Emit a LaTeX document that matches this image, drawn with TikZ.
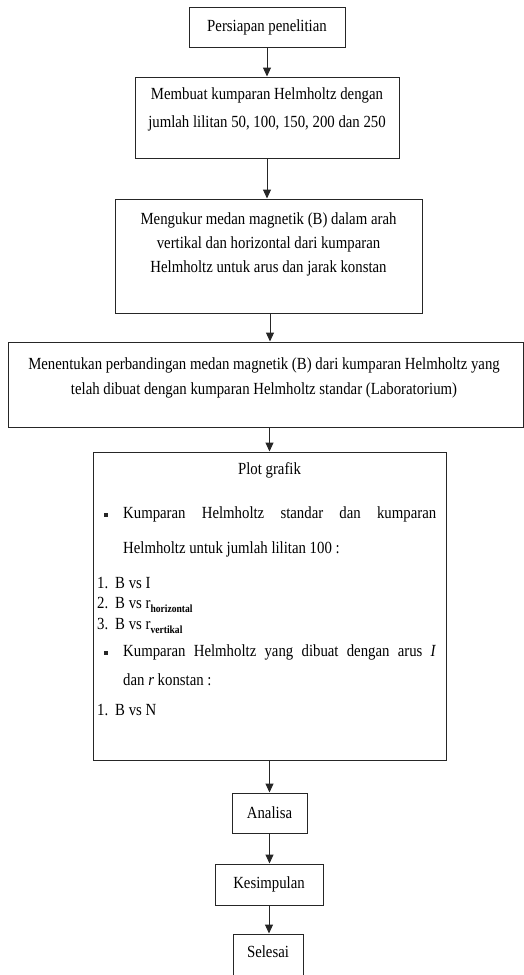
\documentclass[tikz,border=0pt]{standalone}
\usepackage{fontspec}
\setmainfont[FakeStretch=0.87]{Liberation Serif}
\usetikzlibrary{arrows.meta}
\begin{document}
\begin{tikzpicture}[x=1pt,y=-1pt,
  box/.style={draw=black!85, line width=1pt, inner sep=0pt},
  txt/.style={font=\fontsize{17}{24}\selectfont, inner sep=0pt, align=center},
  ln/.style={font=\fontsize{17}{18}\selectfont, inner sep=0pt, anchor=west, text height=11pt, text depth=3.5pt},
  bul/.style={fill=black!85, minimum size=4.5pt, inner sep=0pt},
  arr/.style={draw=black!85, line width=1pt, -{Triangle[length=9pt,width=8pt]}}]
\useasboundingbox (0,0) rectangle (524,975);
% boxes
\node[box, minimum width=156, minimum height=40] (b1) at (267,27) {};
\node[txt] (t1) at (b1.center) {Persiapan penelitian};

\node[box, minimum width=264, minimum height=81] (b2) at (267,117.5) {};
\node[txt, font=\fontsize{17}{28}\selectfont] (t2) at (267,109) {Membuat kumparan Helmholtz dengan\\jumlah lilitan 50, 100, 150, 200 dan 250};

\node[box, minimum width=307, minimum height=114] (b3) at (268.5,256) {};
\node[txt, font=\fontsize{17}{24}\selectfont] (t3) at (268.5,244) {Mengukur medan magnetik (B) dalam arah\\vertikal dan horizontal dari kumparan\\Helmholtz untuk arus dan jarak konstan};

\node[box, minimum width=515, minimum height=85] (b4) at (265.5,384.5) {};
\node[txt, font=\fontsize{17}{25}\selectfont] (t4) at (264,377.5) {Menentukan perbandingan medan magnetik (B) dari kumparan Helmholtz yang\\telah dibuat dengan kumparan Helmholtz standar (Laboratorium)};

\node[box, minimum width=353, minimum height=308] (b5) at (269.5,606) {};
\node[txt] (t5) at (269.5,470) {Plot grafik};
\node[bul] (s1) at (106,515) {};
\node[ln] (p1) at (123,515) {\hbox to 313pt{Kumparan\hfill Helmholtz\hfill standar\hfill dan\hfill kumparan}};
\node[ln] (p2) at (123,550) {Helmholtz untuk jumlah lilitan 100 :};
\node[ln] (n1) at (97,585) {1.};
\node[ln] (i1) at (115,585) {B vs I};
\node[ln] (n2) at (97,605) {2.};
\node[ln] (i2) at (115,605) {B vs r\raisebox{-4pt}{\fontsize{11}{11}\selectfont\bfseries horizontal}};
\node[ln] (n3) at (97,626) {3.};
\node[ln] (i3) at (115,626) {B vs r\raisebox{-4pt}{\fontsize{11}{11}\selectfont\bfseries vertikal}};
\node[bul] (s2) at (106,653) {};
\node[ln] (q1) at (123,653) {\hbox to 313pt{Kumparan\hfill Helmholtz\hfill yang\hfill dibuat\hfill dengan\hfill arus\hfill \textit{I}}};
\node[ln] (q2) at (123,682) {dan \textit{r} konstan :};
\node[ln] (n4) at (97,712) {1.};
\node[ln] (i4) at (115,712) {B vs N};

\node[box, minimum width=75, minimum height=40] (b6) at (269.5,813) {};
\node[txt] (t6) at (b6.center) {Analisa};
\node[box, minimum width=108, minimum height=41] (b7) at (269,884.5) {};
\node[txt] (t7) at (b7.center) {Kesimpulan};
\node[box, minimum width=70, minimum height=50] (b8) at (268,959) {};
\node[txt] (t8) at (268,952) {Selesai};
% arrows
\draw[arr] (b1.south) -- (b1.south |- b2.north);
\draw[arr] (b2.south) -- (b2.south |- b3.north);
\draw[arr] ([xshift=1.5pt]b3.south) -- ([xshift=1.5pt]b3.south |- b4.north);
\draw[arr] (b5.north |- b4.south) -- (b5.north);
\draw[arr] (b6.north |- b5.south) -- (b6.north);
\draw[arr] (b6.south) -- (b6.south |- b7.north);
\draw[arr] (b7.south) -- (b7.south |- b8.north);
\end{tikzpicture}
\end{document}
